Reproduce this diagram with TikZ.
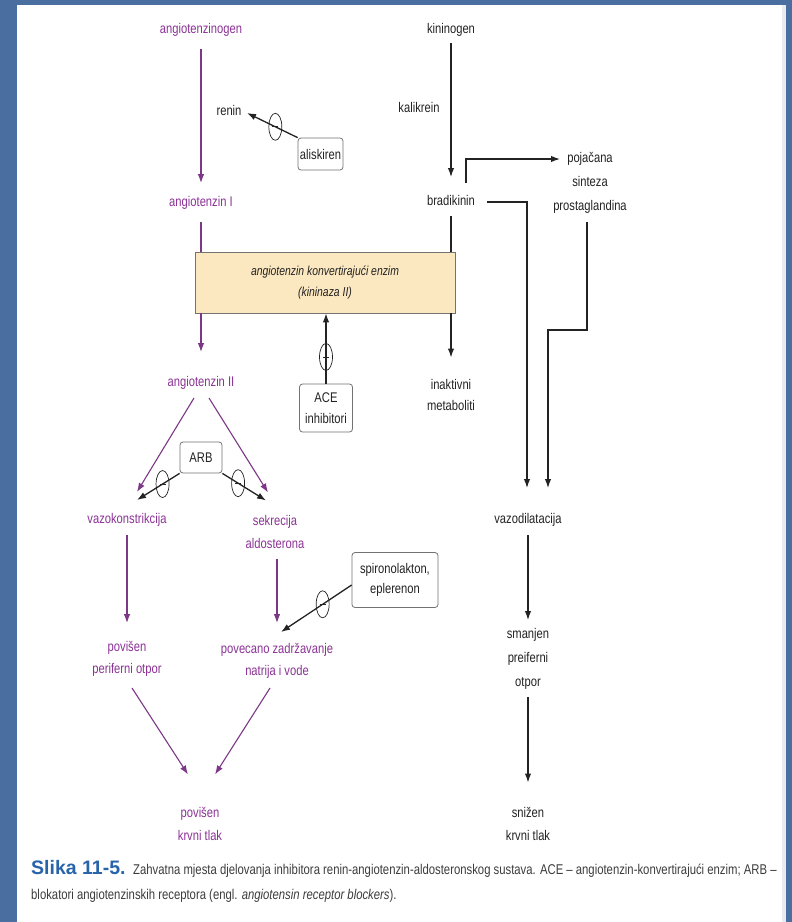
\documentclass[tikz,border=0pt]{standalone}
\usepackage{fontspec}
\setmainfont{Liberation Sans}[FakeStretch=0.8]
\newfontfamily\capfont{Liberation Sans}
\usetikzlibrary{arrows.meta,shapes.geometric,calc}
\definecolor{bgblue}{RGB}{75,110,160}
\definecolor{ppl}{RGB}{140,50,150}
\definecolor{plinec}{RGB}{125,55,135}
\definecolor{klinec}{RGB}{35,35,35}
\definecolor{acefill}{RGB}{251,231,192}
\definecolor{boxdraw}{RGB}{115,115,115}
\definecolor{capblue}{RGB}{40,100,170}
\definecolor{capgray}{RGB}{60,60,60}
\definecolor{edgegray}{RGB}{232,235,240}
\newcommand\lblfont{\fontsize{14}{22}\selectfont}
\begin{document}
\begin{tikzpicture}[x=1pt,y=-1pt,
  lbl/.style={inner sep=0pt, align=center, font=\lblfont, text=klinec},
  plbl/.style={lbl, text=ppl},
  rbox/.style={draw=boxdraw, rounded corners=3pt, line width=0.8pt, align=center, font=\lblfont, text=klinec, inner sep=0pt, fill=white},
  parr/.style={draw=plinec, line width=1.1pt, -{Latex[length=9pt,width=6.5pt]}},
  pseg/.style={draw=plinec, line width=1.1pt},
  karr/.style={draw=klinec, line width=1.3pt, -{Latex[length=9pt,width=6.5pt]}},
  kseg/.style={draw=klinec, line width=1.3pt},
  inhib/.style={draw=klinec, ellipse, line width=0.7pt, minimum width=13pt, minimum height=27pt, inner sep=0pt,
    path picture={\draw[-, klinec, line width=0.7pt] ([xshift=-3pt]path picture bounding box.center) -- ([xshift=3pt]path picture bounding box.center);}}
]
% background
\fill[bgblue] (0,0) rectangle (792,922);
\fill[white] (17,5) rectangle (785,922);
\fill[edgegray] (782,5) rectangle (786,922);
\useasboundingbox (0,0) rectangle (792,922);

% nodes
\node[plbl] (agen) at (201,30) {angiotenzinogen};
\node[lbl] (renin) at (229,110) {renin};
\node[rbox, minimum width=45pt, minimum height=32pt] (alis) at (320.5,154) {aliskiren};
\node[plbl] (ang1) at (201,203) {angiotenzin I};
\node[draw=boxdraw, fill=acefill, line width=0.8pt, minimum width=260pt, minimum height=61pt, inner sep=0pt, align=center, font=\fontsize{13}{22}\selectfont\itshape, text=klinec] (ace) at (325,282.5) {angiotenzin konvertirajući enzim\\[-1pt](kininaza II)};
\node[plbl] (ang2) at (201,383) {angiotenzin II};
\node[rbox, minimum width=53pt, minimum height=48pt] (acei) at (326,408) {ACE\\[-1pt]inhibitori};
\node[lbl] (inakt) at (451,394.5) {inaktivni\\[-1pt]metaboliti};
\node[lbl] (kinin) at (451,30) {kininogen};
\node[lbl] (kalik) at (419,107) {kalikrein};
\node[lbl] (brad) at (451,200) {bradikinin};
\node[lbl] (pros) at (590,183) {pojačana\\[2pt]sinteza\\[2pt]prostaglandina};
\node[rbox, minimum width=42pt, minimum height=31pt] (arb) at (201,457.5) {ARB};
\node[plbl] (vazo) at (127,520) {vazokonstrikcija};
\node[plbl] (sekre) at (275,531.5) {sekrecija\\[1pt]aldosterona};
\node[rbox, minimum width=86pt, minimum height=55pt] (spiro) at (395,580) {spironolakton,\\[-2pt]eplerenon};
\node[plbl] (povp) at (127,659) {povišen\\periferni otpor};
\node[plbl] (povn) at (277,661) {povecano zadržavanje\\natrija i vode};
\node[plbl] (povk) at (200,823.5) {povišen\\[1pt]krvni tlak};
\node[lbl] (vazod) at (528,520) {vazodilatacija};
\node[lbl] (smanj) at (528,659) {smanjen\\[2pt]preiferni\\[2pt]otpor};
\node[lbl] (sniz) at (528,823.5) {snižen\\[1pt]krvni tlak};

% caption
\node[anchor=base west, inner sep=0pt, text=capblue, font=\capfont\bfseries\fontsize{19.5}{20}\selectfont] (capl) at (31,874) {Slika 11-5.};
\node[anchor=base west, inner sep=0pt, text=capgray, font=\fontsize{14.15}{25}\selectfont] (cap1) at (133,874) {Zahvatna mjesta djelovanja inhibitora renin-angiotenzin-aldosteronskog sustava. ACE -- angiotenzin-konvertirajući enzim; ARB --};
\node[anchor=base west, inner sep=0pt, text=capgray, font=\fontsize{14.15}{25}\selectfont] (cap2) at (31,899) {blokatori angiotenzinskih receptora (engl. \textit{angiotensin receptor blockers}).};

% connectors
\draw[parr] ($(agen)+(0,19)$) -- ($(ang1)+(0,-20)$);
\draw[karr] (alis.north west) -- node[inhib, pos=0.44]{} ($(renin)+(18,3)$);
\draw[pseg] ($(ang1)+(0,19)$) -- (ang1 |- ace.north);
\draw[parr] (ang2 |- ace.south) -- ($(ang2)+(0,-31)$);
\draw[karr] (acei.north) -- node[inhib, pos=0.38]{} (acei |- ace.south);
\draw[karr] ($(kinin)+(0,13)$) -- ($(brad)+(0,-23)$);
\draw[kseg] ($(brad)+(0,16)$) -- (brad |- ace.north);
\draw[karr] (brad |- ace.south) -- ($(inakt)+(0,-37)$);
\draw[karr] ($(brad)+(15,-17)$) |- ($(pros)+(-30,-24)$);
\draw[karr] ($(brad)+(36,2)$) -| ($(vazod)+(-1,-32)$);
\draw[karr] ($(pros)+(-3,39)$) |- ($(vazod)+(20,-190)$) -- ($(vazod)+(20,-32)$);
\draw[parr] ($(ang2)+(-7,15)$) -- ($(vazo)+(10,-28)$);
\draw[parr] ($(ang2)+(8,15)$) -- ($(sekre)+(-7,-39)$);
\draw[karr] (arb.south west) -- node[inhib, pos=0.4]{} ($(vazo)+(10,-20)$);
\draw[karr] (arb.south east) -- node[inhib, pos=0.36]{} ($(sekre)+(-9,-31)$);
\draw[parr] ($(vazo)+(0,15)$) -- ($(povp)+(0,-36)$);
\draw[parr] ($(sekre)+(2,27)$) -- ($(povn)+(0,-38)$);
\draw[karr] ($(spiro.west)+(0,5)$) -- node[inhib, pos=0.41]{} ($(povn)+(4,-29)$);
\draw[parr] ($(povp)+(5,29)$) -- ($(povk)+(-12,-49)$);
\draw[parr] ($(povn)+(-7,27)$) -- ($(povk)+(15,-49)$);
\draw[karr] ($(vazod)+(0,15)$) -- ($(smanj)+(0,-39)$);
\draw[karr] ($(smanj)+(0,38)$) -- ($(sniz)+(0,-41)$);
\end{tikzpicture}
\end{document}
